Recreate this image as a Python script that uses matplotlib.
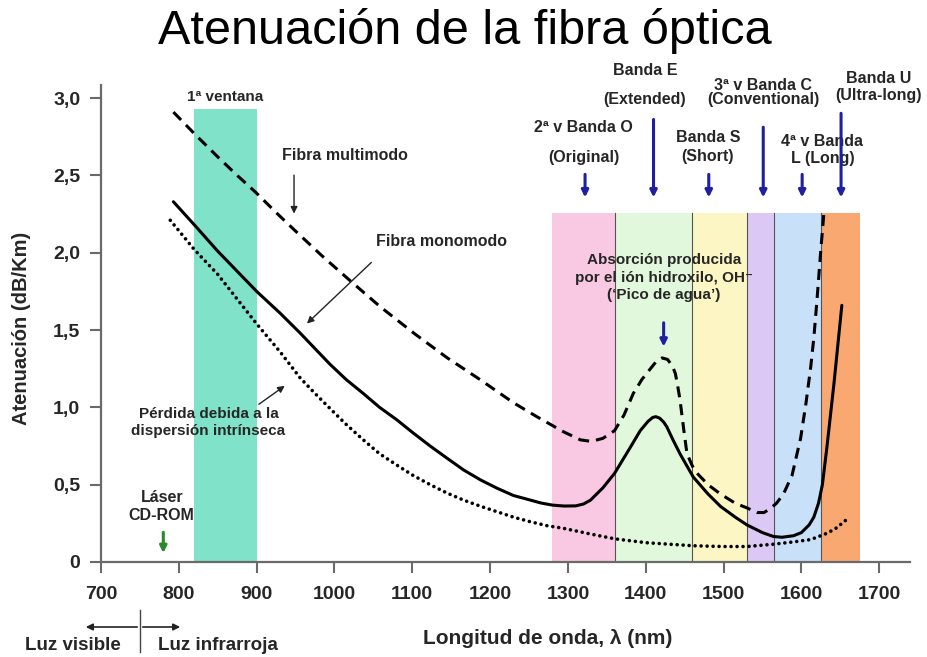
import matplotlib
matplotlib.use('Agg')
import matplotlib.pyplot as plt

plt.rcParams['font.family'] = ['Liberation Sans', 'DejaVu Sans']

# Curves (wavelength nm, attenuation dB/km)
mono_x = [793, 820, 850, 875, 900, 930, 956, 975, 994, 1015, 1037, 1058, 1080, 1101, 1123,
          1145, 1166, 1188, 1209, 1230, 1252, 1265, 1280, 1295, 1310, 1320, 1329, 1345,
          1360, 1380, 1393, 1403, 1409, 1413, 1418, 1423, 1427, 1435, 1444, 1461, 1480,
          1496, 1515, 1530, 1550, 1564, 1575, 1590, 1600, 1610, 1616, 1622, 1627, 1633,
          1642, 1652]
mono_y = [2.33, 2.18, 2.01, 1.88, 1.75, 1.61, 1.48, 1.38, 1.28, 1.18, 1.09, 1.00, 0.92,
          0.835, 0.75, 0.67, 0.595, 0.53, 0.477, 0.43, 0.40, 0.382, 0.368, 0.362, 0.363,
          0.375, 0.40, 0.48, 0.574, 0.74, 0.85, 0.91, 0.935, 0.94, 0.93, 0.905, 0.875,
          0.79, 0.70, 0.55, 0.44, 0.36, 0.29, 0.24, 0.19, 0.165, 0.16, 0.17, 0.19, 0.24,
          0.29, 0.38, 0.50, 0.75, 1.16, 1.66]

multi_x = [793, 820, 850, 875, 900, 925, 950, 984, 1020, 1059, 1102, 1145, 1187, 1230,
           1260, 1294, 1316, 1330, 1345, 1360, 1372, 1384, 1395, 1406, 1414, 1421, 1428,
           1434, 1438, 1441, 1444, 1449, 1453, 1460, 1466, 1480, 1496, 1515, 1530, 1543,
           1552, 1560, 1568, 1577, 1588, 1599, 1606, 1612, 1616, 1620, 1625, 1629]
multi_y = [2.91, 2.77, 2.62, 2.50, 2.385, 2.26, 2.14, 1.98, 1.82, 1.65, 1.48, 1.32, 1.18,
           1.03, 0.94, 0.843, 0.79, 0.78, 0.80, 0.85, 0.95, 1.09, 1.18, 1.25, 1.30, 1.32,
           1.31, 1.27, 1.22, 1.14, 1.05, 0.85, 0.70, 0.62, 0.574, 0.50, 0.44, 0.38, 0.35,
           0.32, 0.32, 0.345, 0.38, 0.44, 0.56, 0.80, 1.03, 1.26, 1.45, 1.69, 2.02, 2.26]

disp_x = [789, 820, 850, 875, 900, 930, 956, 975, 994, 1015, 1037, 1058, 1080, 1101, 1123,
          1145, 1166, 1188, 1209, 1230, 1252, 1273, 1294, 1330, 1360, 1400, 1461, 1500,
          1530, 1564, 1590, 1612, 1633, 1645, 1657]
disp_y = [2.21, 2.02, 1.86, 1.70, 1.54, 1.36, 1.19, 1.09, 0.994, 0.89, 0.79, 0.70, 0.627,
          0.56, 0.50, 0.445, 0.40, 0.36, 0.325, 0.29, 0.26, 0.235, 0.218, 0.18, 0.15,
          0.125, 0.105, 0.10, 0.10, 0.115, 0.13, 0.145, 0.186, 0.22, 0.27]

# Windows / bands
ventana_x = [820, 900]
ventana_top = 2.93
band_left = [1280, 1360, 1460, 1530, 1565, 1625]
band_right = [1360, 1460, 1530, 1565, 1625, 1675]
band_colors = ['#f9c8e2', '#e2f8dc', '#fcf6c4', '#dcc8f4', '#c8e0f8', '#f9a872']
band_top = 2.26

# Band labels: (text, x, y) and arrows (x, y_start, y_end)
band_labels = [
    ('2ª v Banda O', 1320, 2.81), ('(Original)', 1320, 2.615),
    ('Banda E', 1399, 3.18), ('(Extended)', 1399, 2.99),
    ('Banda S', 1480, 2.745), ('(Short)', 1480, 2.62),
    ('3ª v Banda C', 1551, 3.085), ('(Conventional)', 1551, 2.99),
    ('4ª v Banda', 1627, 2.72), ('L (Long)', 1627, 2.61),
    ('Banda U', 1699, 3.13), ('(Ultra-long)', 1699, 3.015),
]
band_arrow_x = [1322, 1410, 1481, 1551, 1601, 1651]
band_arrow_y0 = [2.525, 2.88, 2.525, 2.83, 2.525, 2.92]
arrow_tip_y = 2.34

xticks = [700, 800, 900, 1000, 1100, 1200, 1300, 1400, 1500, 1600, 1700]
yticks = [0, 0.5, 1.0, 1.5, 2.0, 2.5, 3.0]
ytick_labels = ['0', '0,5', '1,0', '1,5', '2,0', '2,5', '3,0']

W, H = 927, 657
fig = plt.figure(figsize=(W / 100, H / 100), dpi=100)
ax = fig.add_axes([0.109, 0.1446, 0.873, 0.726])
ax.set_xlim(700, 1740)
ax.set_ylim(0, 3.085)

txt = '#262626'
blue = '#1f1fa0'

# coloured windows
ax.bar(ventana_x[0], ventana_top, width=ventana_x[1] - ventana_x[0], align='edge',
       color='#7fe2c9', zorder=1)
for l, r, c in zip(band_left, band_right, band_colors):
    ax.bar(l, band_top, width=r - l, align='edge', color=c, zorder=1)
for l in band_left[1:]:
    ax.plot([l, l], [0, band_top], color='#555555', lw=0.8, zorder=2)

# curves
ax.plot(multi_x, multi_y, color='black', lw=2.2, linestyle=(0, (3.6, 2.3)), zorder=3)
ax.plot(mono_x, mono_y, color='black', lw=2.2, zorder=3, solid_capstyle='round',
        solid_joinstyle='round')
ax.plot(disp_x, disp_y, color='black', lw=2.6, linestyle=(0, (0.01, 1.65)),
        dash_capstyle='round', zorder=3)

# axes styling
for s in ['top', 'right']:
    ax.spines[s].set_visible(False)
for s in ['left', 'bottom']:
    ax.spines[s].set_color('#6a6a6a')
    ax.spines[s].set_linewidth(1.6)
ax.set_xticks(xticks)
ax.set_xticklabels([str(v) for v in xticks])
ax.set_yticks(yticks)
ax.set_yticklabels(ytick_labels)
ax.tick_params(axis='both', length=8, width=1.5, color='#6a6a6a', labelsize=14,
               labelcolor=txt)
ax.tick_params(axis='x', pad=9)
ax.tick_params(axis='y', pad=7)
for lab in ax.get_xticklabels() + ax.get_yticklabels():
    lab.set_fontweight('bold')

bold = dict(fontweight='bold', color=txt, ha='center', va='center')

# annotations
ax.text(859, 3.01, '1ª ventana', fontsize=11, **bold)
ax.text(1014, 2.626, 'Fibra multimodo', fontsize=11.5, **bold)
ax.annotate('', xy=(948, 2.235), xytext=(948, 2.52),
            arrowprops=dict(arrowstyle='-|>', color='#222222', lw=1, mutation_scale=10))
ax.text(1138, 2.07, 'Fibra monomodo', fontsize=11.5, **bold)
ax.annotate('', xy=(962, 1.53), xytext=(1050, 1.95),
            arrowprops=dict(arrowstyle='-|>', color='#222222', lw=1, mutation_scale=10))
ax.text(838, 0.90, 'Pérdida debida a la\ndispersión intrínseca', fontsize=11,
        linespacing=1.25, **bold)
ax.annotate('', xy=(939, 1.15), xytext=(900, 1.01),
            arrowprops=dict(arrowstyle='-|>', color='#222222', lw=1, mutation_scale=10))
ax.text(778, 0.36, 'Láser\nCD-ROM', fontsize=11.5, linespacing=1.2, **bold)
ax.annotate('', xy=(780, 0.04), xytext=(780, 0.21),
            arrowprops=dict(arrowstyle='-|>', color='#2a8a2a', lw=2.2, mutation_scale=10))
ax.text(1423, 1.84, 'Absorción producida\npor el ión hidroxilo, OH\u207b\n(‘Pico de agua’)',
        fontsize=11, linespacing=1.3, **bold)
ax.annotate('', xy=(1423, 1.375), xytext=(1423, 1.565),
            arrowprops=dict(arrowstyle='-|>', color=blue, lw=2.2, mutation_scale=10))

for t, x, y in band_labels:
    ax.text(x, y, t, fontsize=11.5, **bold)
for x, y0 in zip(band_arrow_x, band_arrow_y0):
    ax.annotate('', xy=(x, arrow_tip_y), xytext=(x, y0),
                arrowprops=dict(arrowstyle='-|>', color=blue, lw=2.2, mutation_scale=10),
                zorder=4)

# title and axis labels
fig.text(465 / W, 1 - 31 / H, 'Atenuación de la fibra óptica', fontsize=35,
         ha='center', va='center', color='black')
fig.text(548 / W, 1 - 638 / H, 'Longitud de onda, λ (nm)', fontsize=15, **bold)
fig.text(22 / W, 1 - 328 / H, 'Atenuación (dB/Km)', fontsize=14.5, rotation=90, **bold)

# visible / infrared
fig.text(73 / W, 1 - 645 / H, 'Luz visible', fontsize=13.5, **bold)
fig.text(218 / W, 1 - 645 / H, 'Luz infrarroja', fontsize=13.5, **bold)
fig.add_artist(plt.Line2D([140 / W, 140 / W], [1 - 610 / H, 1 - 652 / H],
                          color='#444444', lw=1))
ax.annotate('', xy=(83 / W, 1 - 627 / H), xytext=(140 / W, 1 - 627 / H),
            xycoords='figure fraction', textcoords='figure fraction',
            arrowprops=dict(arrowstyle='-|>', color='#222222', lw=1.2, mutation_scale=10))
ax.annotate('', xy=(183 / W, 1 - 627 / H), xytext=(140 / W, 1 - 627 / H),
            xycoords='figure fraction', textcoords='figure fraction',
            arrowprops=dict(arrowstyle='-|>', color='#222222', lw=1.2, mutation_scale=10))

fig.savefig('out.png', dpi=100)
